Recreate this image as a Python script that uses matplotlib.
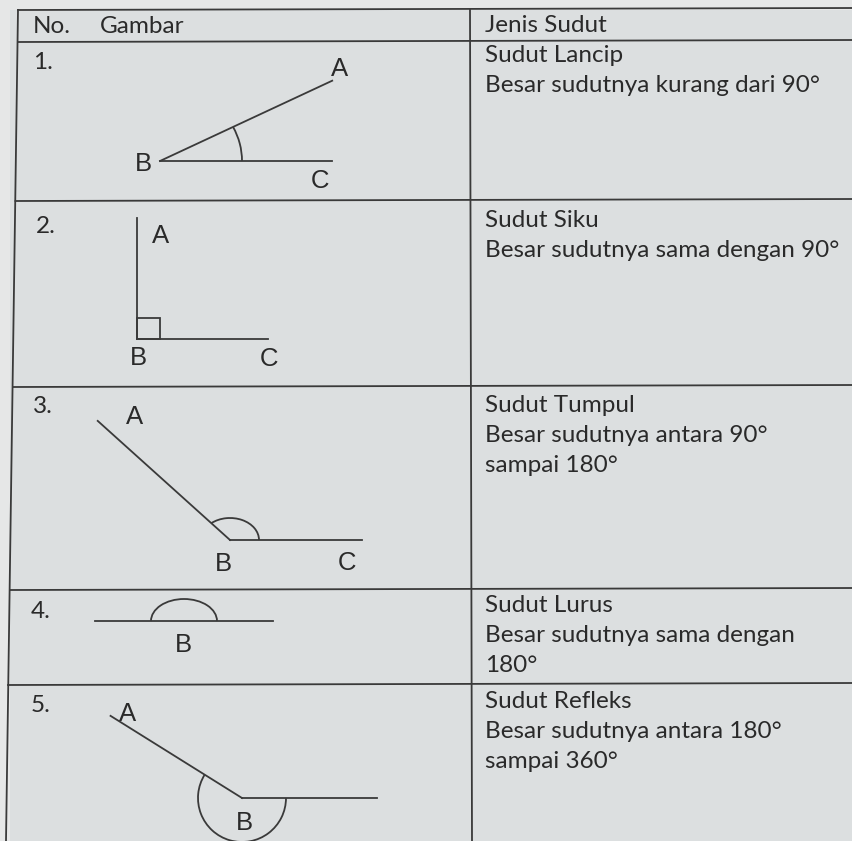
import numpy as np
import matplotlib
matplotlib.use("Agg")
import matplotlib.pyplot as plt
from matplotlib.patches import Arc, Rectangle

# ---- content ----
header_left = ["No.", "Gambar"]
header_right = "Jenis Sudut"
row_numbers = ["1.", "2.", "3.", "4.", "5."]
angle_names = ["Sudut Lancip", "Sudut Siku", "Sudut Tumpul", "Sudut Lurus", "Sudut Refleks"]
angle_desc = [
    ["Besar sudutnya kurang dari 90°"],
    ["Besar sudutnya sama dengan 90°"],
    ["Besar sudutnya antara 90°", "sampai 180°"],
    ["Besar sudutnya sama dengan", "180°"],
    ["Besar sudutnya antara 180°", "sampai 360°"],
]
angle_degrees = [25, 90, 138, 180, 212]

W, H = 852, 841
fig = plt.figure(figsize=(W / 100, H / 100), dpi=100)
fig.patch.set_facecolor("#e6e7e7")
ax = fig.add_axes([0, 0, 1, 1])
ax.set_xlim(0, W)
ax.set_ylim(H, 0)
ax.axis("off")
ax.set_aspect("equal")

LC = "#3a3a3a"
TXT = "#2a2a2a"
LW = 1.3

# paper background inside table
ax.add_patch(Rectangle((10, 10), W, H, facecolor="#dcdfe0", edgecolor="none", zorder=0))

# table grid
ax.plot([18, 6], [10, H], color=LC, lw=LW)            # left border (slightly slanted)
ax.plot([470, 472], [10, H], color=LC, lw=LW)          # column divider
ax.plot([18, W], [10, 8], color=LC, lw=LW)             # top
row_lines = [42, 201, 387, 590, 685]
for i, y in enumerate(row_lines):
    ax.plot([18 - i * 2.5, W], [y, y - 2], color=LC, lw=LW)

tfont = dict(family=["Lato", "DejaVu Sans"], fontsize=17.5, color=TXT, va="center", ha="left")
lfont = dict(family=["Liberation Sans", "DejaVu Sans"], fontsize=18.5, color=TXT, va="center", ha="center")

# header
ax.text(33, 26, header_left[0], **tfont)
ax.text(100, 26, header_left[1], **tfont)
ax.text(485, 25, header_right, **tfont)

# right column text
name_y = [55, 220, 405, 605, 701]
line_gap = 30
for i in range(5):
    ax.text(485, name_y[i], angle_names[i], **tfont)
    for j, d in enumerate(angle_desc[i]):
        ax.text(485, name_y[i] + (j + 1) * line_gap, d, **tfont)

# row numbers
num_pos = [(33, 62), (36, 226), (33, 406), (31, 611), (31, 706)]
for (x, y), n in zip(num_pos, row_numbers):
    ax.text(x, y, n, **tfont)

def ray(bx, by, length, deg):
    r = np.radians(deg)
    return bx + length * np.cos(r), by - length * np.sin(r)

# 1. acute
bx, by = 160, 161
ax.plot([bx, 332], [by, by], color=LC, lw=LW)
ax_, ay_ = ray(bx, by, 190, angle_degrees[0])
ax.plot([bx, ax_], [by, ay_], color=LC, lw=LW)
ax.add_patch(Arc((bx, by), 164, 150, theta1=-angle_degrees[0], theta2=0, color=LC, lw=LW))
ax.text(340, 69, "A", **lfont)
ax.text(143, 164, "B", **lfont)
ax.text(320, 181, "C", **lfont)

# 2. right angle
bx, by = 137, 339
ax.plot([bx, bx], [by, 218], color=LC, lw=LW)
ax.plot([bx, 268], [by, by], color=LC, lw=LW)
ax.add_patch(Rectangle((bx, by - 21), 23, 21, fill=False, edgecolor=LC, lw=LW))
ax.text(161, 236, "A", **lfont)
ax.text(138, 358, "B", **lfont)
ax.text(269, 359, "C", **lfont)

# 3. obtuse
bx, by = 230, 540
ax.plot([bx, 362], [by, by], color=LC, lw=LW)
ax_, ay_ = ray(bx, by, 178, angle_degrees[2])
ax.plot([bx, ax_], [by, ay_], color=LC, lw=LW)
ax.add_patch(Arc((bx, by), 58, 44, theta1=-angle_degrees[2], theta2=0, color=LC, lw=LW))
ax.text(135, 417, "A", **lfont)
ax.text(223, 564, "B", **lfont)
ax.text(347, 563, "C", **lfont)

# 4. straight
bx, by = 184, 621
ax.plot([95, 273], [by, by], color=LC, lw=LW)
ax.add_patch(Arc((bx, by), 66, 44, theta1=-angle_degrees[3], theta2=0, color=LC, lw=LW))
ax.text(183, 645, "B", **lfont)

# 5. reflex
bx, by = 242, 798
ax.plot([bx, 377], [by, by], color=LC, lw=LW)
ax_, ay_ = ray(bx, by, 155, 360 - angle_degrees[4])
ax.plot([bx, ax_], [by, ay_], color=LC, lw=LW)
ax.add_patch(Arc((bx, by), 88, 88, theta1=0, theta2=angle_degrees[4], color=LC, lw=LW))
ax.text(128, 714, "A", **lfont)
ax.text(244, 823, "B", **lfont)

fig.savefig("out.png", dpi=100, facecolor=fig.get_facecolor())
